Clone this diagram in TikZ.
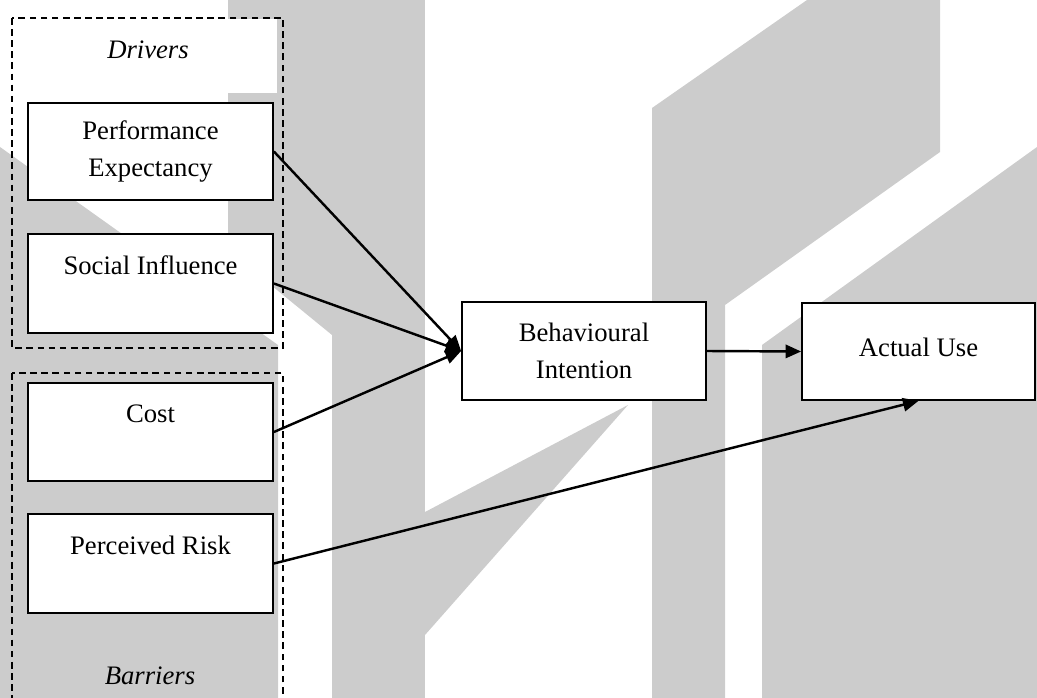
\documentclass[tikz,border=0pt]{standalone}
\usepackage{fontspec}
\setmainfont{Liberation Serif}
\usetikzlibrary{arrows.meta}
\definecolor{wmgrey}{RGB}{204,204,204}

\begin{document}
\begin{tikzpicture}[x=0.45pt,y=-0.45pt,
    box/.style={draw,line width=0.8pt,fill=white,align=center,inner sep=0pt,
        minimum width=245*0.45pt,minimum height=98*0.45pt,
        font=\fontsize{12}{16.6}\selectfont},
    groupbox/.style={draw,line width=0.7pt,dash pattern=on 3pt off 2pt},
    grouptitle/.style={font=\fontsize{12}{14}\selectfont\itshape},
    link/.style={line width=1.1pt,-{Triangle[length=7pt,width=6pt]}}]
    \useasboundingbox (0,0) rectangle (1037,698);
    \clip (0,0) rectangle (1037,698);

    \fill[wmgrey] (0,147) -- (278,345) -- (278,698) -- (0,698) -- cycle;
    \fill[wmgrey] (228,0) -- (332,0) -- (332,335) -- (228,250) -- cycle;
    \fill[wmgrey] (332,0) rectangle (425,698);
    \fill[wmgrey] (425,512) -- (628,405) -- (425,635) -- cycle;
    \fill[wmgrey] (652,698) -- (652,108) -- (807,0) -- (940,0) -- (940,152) -- (725,305) -- (725,698) -- cycle;
    \fill[wmgrey] (762,698) -- (762,345) -- (1037,147) -- (1037,698) -- cycle;

    \fill[white] (13,19) rectangle (277,93);
    \draw[groupbox] (12,18) rectangle (283,348);
    \draw[groupbox] (12,373) rectangle (283,720);

    \node[grouptitle] (drivers) at (148,50) {Drivers};
    \node[grouptitle] (barriers) at (150,676) {Barriers};

    \node[box,minimum height=97*0.45pt] (pe) at (150.5,151.5) {Performance\\Expectancy};
    \node[box,minimum height=99*0.45pt] (si) at (150.5,283.5) {Social Influence\\\mbox{}};
    \node[box] (cost) at (150.5,432) {Cost\\\mbox{}};
    \node[box,minimum height=99*0.45pt] (pr) at (150.5,563.5) {Perceived Risk\\\mbox{}};
    \node[box,minimum width=244*0.45pt] (bi) at (584,351) {Behavioural\\Intention};
    \node[box,minimum width=233*0.45pt,minimum height=97*0.45pt,text depth=3.6pt] (au) at (918.5,351.5) {Actual Use};

    \draw[link] (pe.east) -- (bi.west);
    \draw[link] (si.east) -- (bi.west);
    \draw[link] (cost.east) -- (bi.west);
    \draw[link] (bi.east) -- (au.west);
    \draw[link] (pr.east) -- (au.south);
\end{tikzpicture}
\end{document}
